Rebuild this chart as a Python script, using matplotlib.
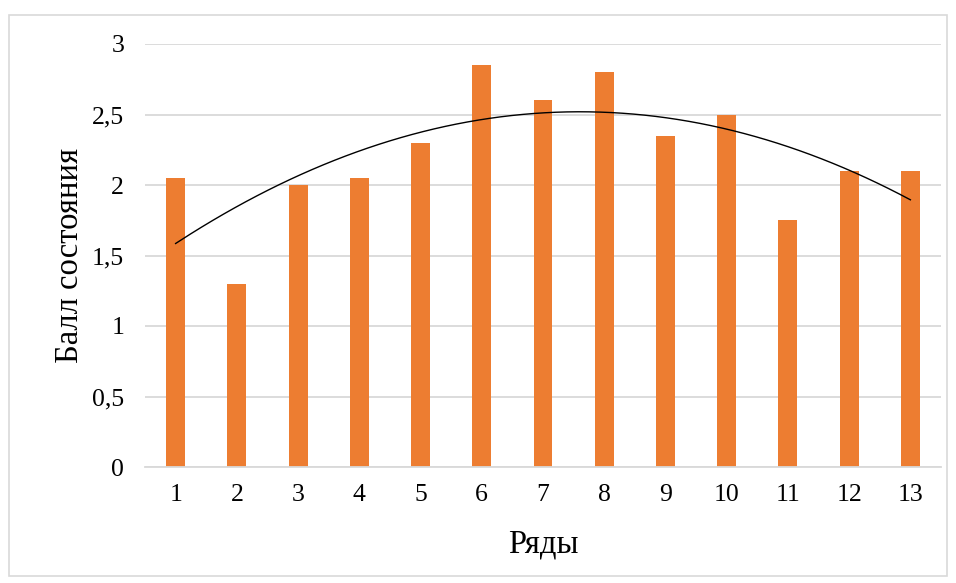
import numpy as np
import matplotlib
matplotlib.use("Agg")
import matplotlib.pyplot as plt
from matplotlib.patches import Rectangle
from matplotlib.ticker import FuncFormatter

# Баллы состояния по рядам
rows = [1, 2, 3, 4, 5, 6, 7, 8, 9, 10, 11, 12, 13]
scores = [2.05, 1.3, 2.0, 2.05, 2.3, 2.85, 2.6, 2.8, 2.35, 2.5, 1.75, 2.1, 2.1]
y_ticks = [0, 0.5, 1, 1.5, 2, 2.5, 3]

BAR_COLOR = "#ED7D31"
GRID_COLOR = "#D9D9D9"

plt.rcParams["font.family"] = ["Liberation Serif", "DejaVu Serif"]

fig = plt.figure(figsize=(9.56, 5.83), dpi=100)
ax = fig.add_axes([145 / 956, 1 - 467 / 583, 796 / 956, 423 / 583])

x = np.array(rows, dtype=float)
y = np.array(scores)
ax.bar(x, y, width=0.31, color=BAR_COLOR, zorder=2)

# полиномиальный тренд 2-й степени
coef = np.polyfit(x, y, 2)
xs = np.linspace(x.min(), x.max(), 200)
ax.plot(xs, np.polyval(coef, xs), color="black", linewidth=1.0, zorder=3)

ax.set_xlim(0.5, 13.5)
ax.set_ylim(0, 3)
ax.set_xticks(rows)
ax.set_yticks(y_ticks)
ax.yaxis.set_major_formatter(
    FuncFormatter(lambda v, _: f"{v:g}".replace(".", ",")))
ax.tick_params(length=0, labelsize=18.5, colors="#000000")
ax.tick_params(axis="x", pad=12)
ax.tick_params(axis="y", pad=15)

ax.grid(axis="y", color=GRID_COLOR, linewidth=1.3, zorder=0)
ax.set_axisbelow(True)
for side in ("top", "right", "left"):
    ax.spines[side].set_visible(False)
ax.spines["bottom"].set_color(GRID_COLOR)
ax.spines["bottom"].set_linewidth(1.3)

ax.set_xlabel("Ряды", fontsize=23.5, labelpad=17)
ax.set_ylabel("Балл состояния", fontsize=23.5, labelpad=5)

# рамка области диаграммы
fig.patches.append(Rectangle((9 / 956, 1 - 576 / 583), 938 / 956, 561 / 583,
                             transform=fig.transFigure, fill=False,
                             edgecolor=GRID_COLOR, linewidth=1.2))

fig.savefig("out.png", dpi=100)
